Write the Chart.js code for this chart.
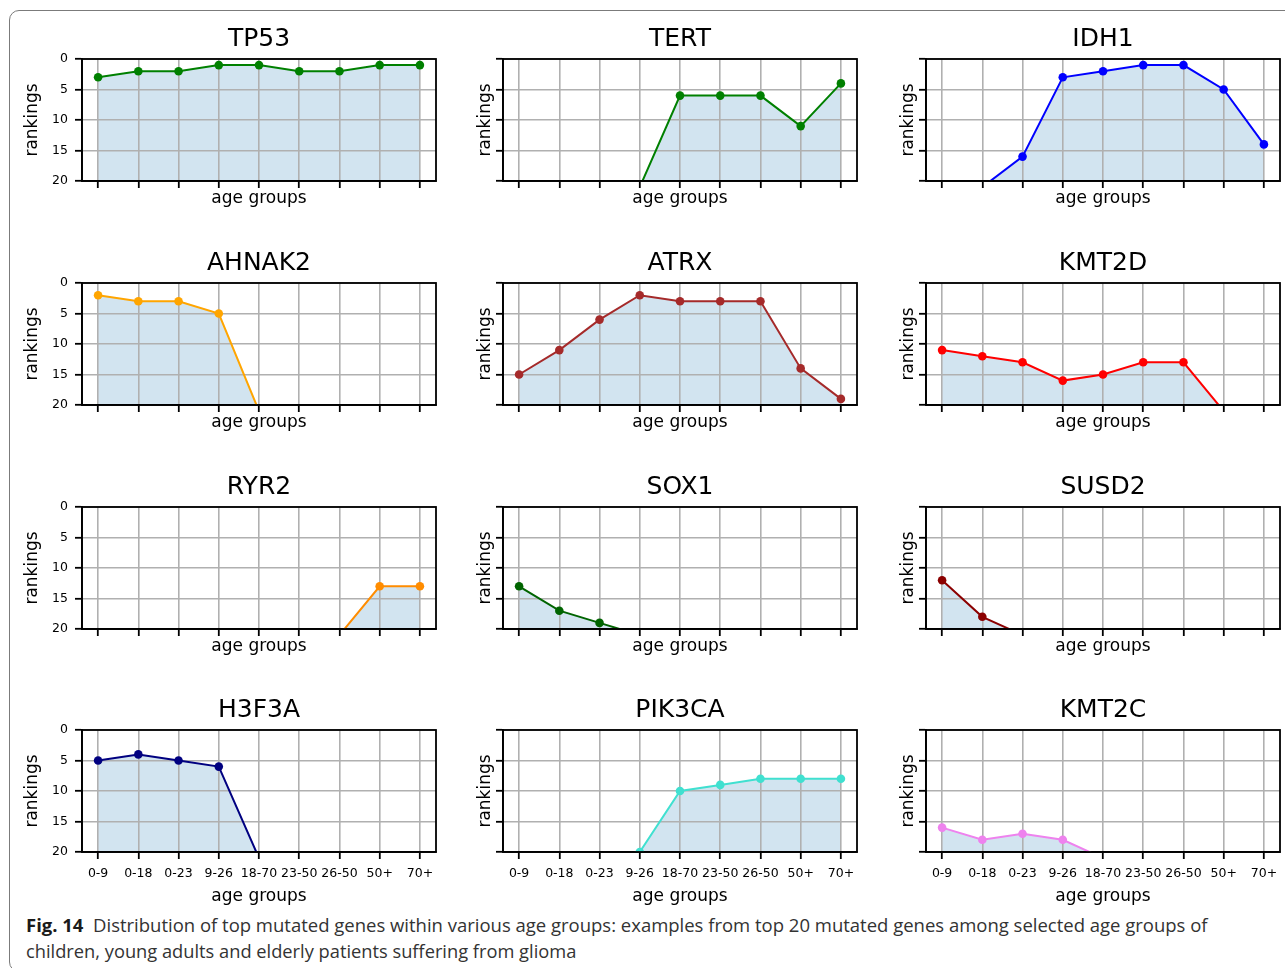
<!DOCTYPE html>
<html>
<head>
<meta charset="utf-8">
<script src="https://cdn.jsdelivr.net/npm/chart.js@4.4.1/dist/chart.umd.min.js"></script>
<style>
body { margin: 0; background: #fff; width: 1285px; height: 968px; overflow: hidden; position: relative; }
#frame { position: absolute; left: 9px; top: 10px; width: 1300px; height: 962px; border: 1.5px solid #7b7b7b; border-radius: 10px; box-sizing: border-box; }
canvas { position: absolute; }
.cap { position: absolute; left: 26px; font-family: "Open Sans"; font-size: 18px; line-height: 24px; color: #333; white-space: nowrap; transform-origin: 0 50%; }
.cap b { color: #1a1a1a; }
</style>
</head>
<body>
<div id="frame"></div>
<div class="cap" id="cap1" style="top:913px"><b>Fig. 14</b>&nbsp; Distribution of top mutated genes within various age groups: examples from top 20 mutated genes among selected age groups of</div>
<div class="cap" id="cap2" style="top:939px">children, young adults and elderly patients suffering from glioma</div>
<script>
// age groups on the x axis, rank ticks on the y axis
const ageGroups = ["0-9", "0-18", "0-23", "9-26", "18-70", "23-50", "26-50", "50+", "70+"];
const rankTicks = [0, 5, 10, 15, 20];

// ranking of each gene per age group (21 = not in the top 20, falls below the plot)
const tp53   = [3, 2, 2, 1, 1, 2, 2, 1, 1];
const tert   = [21, 21, 21, 21, 6, 6, 6, 11, 4];
const idh1   = [21, 21, 16, 3, 2, 1, 1, 5, 14];
const ahnak2 = [2, 3, 3, 5, 21, 21, 21, 21, 21];
const atrx   = [15, 11, 6, 2, 3, 3, 3, 14, 19];
const kmt2d  = [11, 12, 13, 16, 15, 13, 13, 21, 21];
const ryr2   = [21, 21, 21, 21, 21, 21, 21, 13, 13];
const sox1   = [13, 17, 19, 21, 21, 21, 21, 21, 21];
const susd2  = [12, 18, 21, 21, 21, 21, 21, 21, 21];
const h3f3a  = [5, 4, 5, 6, 21, 21, 21, 21, 21];
const pik3ca = [21, 21, 21, 20, 10, 9, 8, 8, 8];
const kmt2c  = [16, 18, 17, 18, 21, 21, 21, 21, 21];

const genes = ["TP53", "TERT", "IDH1", "AHNAK2", "ATRX", "KMT2D", "RYR2", "SOX1", "SUSD2", "H3F3A", "PIK3CA", "KMT2C"];
const series = [tp53, tert, idh1, ahnak2, atrx, kmt2d, ryr2, sox1, susd2, h3f3a, pik3ca, kmt2c];
const lineColors = ["#008000", "#008000", "#0000ff", "#ffa500", "#a52a2a", "#ff0000",
                    "#ff8c00", "#006400", "#8b0000", "#000080", "#40e0d0", "#ee82ee"];

// panel geometry
const colLeft = [82, 503, 926];
const rowTop = [59, 283, 507, 730];
const plotW = 354, plotH = 122;
const font = "DejaVu Sans";

// matplotlib-like box round each axes
const frameBox = {
    id: "frameBox",
    afterDraw(chart) {
        const { ctx, chartArea: a } = chart;
        ctx.save();
        ctx.strokeStyle = "#000";
        ctx.lineWidth = 1.8;
        ctx.strokeRect(a.left, a.top, a.right - a.left, a.bottom - a.top);
        ctx.restore();
    }
};

function makePanel(i) {
    const row = Math.floor(i / 3), col = i % 3;
    const bottomRow = row === 3;
    const xh = bottomRow ? 56 : 30;
    const canvas = document.createElement("canvas");
    canvas.width = 80 + plotW + 8;
    canvas.height = 50 + plotH + xh;
    canvas.style.left = (colLeft[col] - 80) + "px";
    canvas.style.top = (rowTop[row] - 50) + "px";
    document.body.appendChild(canvas);

    const gridOpts = { color: "#b0b0b0", lineWidth: 1.6, tickLength: 7, tickColor: "#000", tickWidth: 1.8 };
    const borderOpts = { display: true, color: "#000", width: 1.8 };

    new Chart(canvas.getContext("2d"), {
        type: "line",
        data: {
            datasets: [{
                data: series[i].map((v, k) => ({ x: k, y: v })),
                borderColor: lineColors[i],
                backgroundColor: "rgba(31, 119, 180, 0.2)",
                fill: "start",
                borderWidth: 2,
                pointRadius: 4.3,
                pointBackgroundColor: lineColors[i],
                pointBorderWidth: 0,
                tension: 0,
                clip: 0
            }]
        },
        options: {
            responsive: false,
            animation: false,
            events: [],
            layout: { padding: { left: 0, top: 0, right: 8, bottom: 0 } },
            plugins: {
                legend: { display: false },
                tooltip: { enabled: false },
                filler: { drawTime: "beforeDraw" },  // fill sits under the grid
                title: {
                    display: true,
                    text: genes[i],
                    fullSize: false,
                    color: "#000",
                    font: { family: font, size: 25, weight: "normal" },
                    padding: { top: 15, bottom: 5 }
                }
            },
            scales: {
                x: {
                    type: "linear",
                    min: -0.4,
                    max: 8.4,
                    afterBuildTicks: s => { s.ticks = ageGroups.map((_, k) => ({ value: k })); },
                    afterFit: s => { s.height = xh; },
                    ticks: {
                        display: bottomRow,
                        autoSkip: false,
                        maxRotation: 0,
                        minRotation: 0,
                        padding: 7,
                        color: "#000",
                        font: { family: font, size: 12.5 },
                        callback: v => ageGroups[v]
                    },
                    grid: gridOpts,
                    border: borderOpts,
                    title: {
                        display: true,
                        text: "age groups",
                        color: "#000",
                        font: { family: font, size: 17 },
                        padding: { top: 0, bottom: bottomRow ? 1 : 1.8 }
                    }
                },
                y: {
                    type: "linear",
                    min: 0,
                    max: 20,
                    reverse: true,
                    afterBuildTicks: s => { s.ticks = rankTicks.map(v => ({ value: v })); },
                    afterFit: s => { s.width = 80; },
                    ticks: {
                        display: col === 0,
                        padding: 7,
                        color: "#000",
                        font: { family: font, size: 12.5 }
                    },
                    grid: gridOpts,
                    border: borderOpts,
                    title: {
                        display: true,
                        text: "rankings",
                        color: "#000",
                        font: { family: font, size: 17 },
                        padding: { top: col === 0 ? 20.8 : 52.3, bottom: 0 }
                    }
                }
            }
        },
        plugins: [frameBox]
    });
}

genes.forEach((_, i) => makePanel(i));

// squeeze the caption lines to the widths in the figure
function fitCaption(id, target) {
    const el = document.getElementById(id);
    el.style.transform = "scaleX(" + (target / el.offsetWidth) + ")";
}
fitCaption("cap1", 1182);
fitCaption("cap2", 550);
</script>
</body>
</html>
